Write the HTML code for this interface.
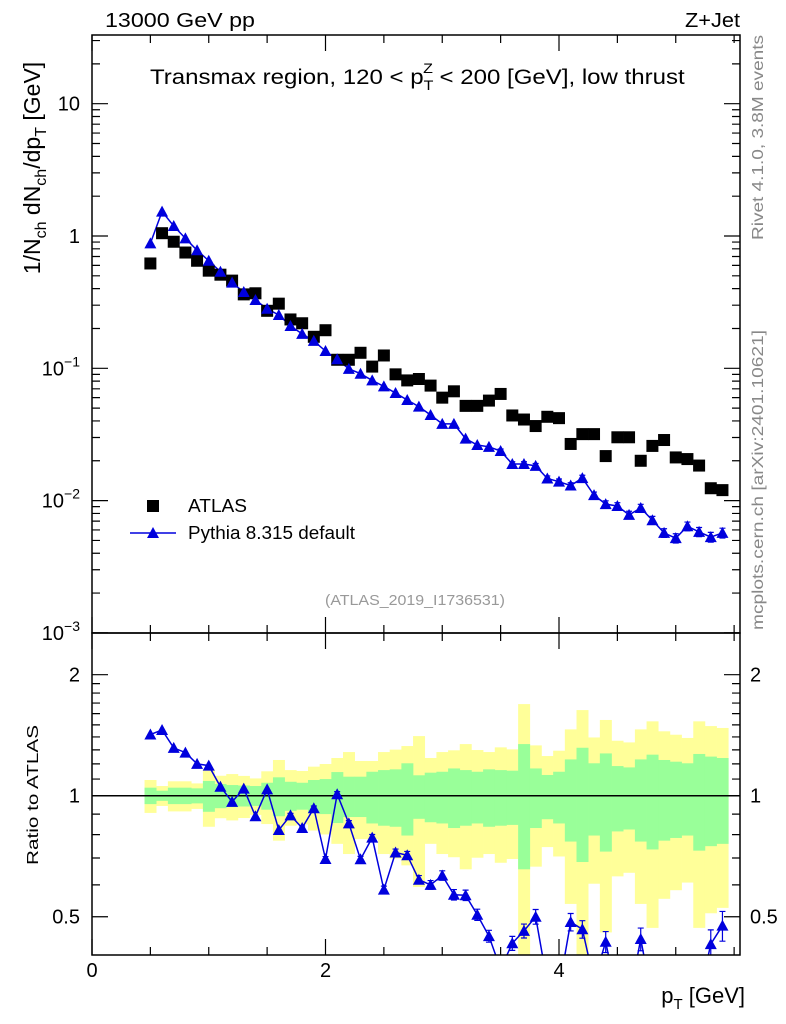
<!DOCTYPE html>
<html><head><meta charset="utf-8"><style>
html,body{margin:0;padding:0;background:#fff;overflow:hidden;width:786px;height:1024px}
svg{display:block;font-family:"Liberation Sans",sans-serif}
</style></head><body>
<svg id="c" width="786" height="1024" viewBox="0 0 786 1024">
<defs>
<clipPath id="cm"><rect x="92" y="35" width="648" height="598"/></clipPath>
<clipPath id="cr"><rect x="92" y="633" width="648" height="322"/></clipPath>
</defs>
<g id="bands" clip-path="url(#cr)"></g>
<g id="marks"></g>
<rect x="92" y="35" width="648" height="598" fill="none" stroke="#000" stroke-width="1.5"/>
<rect x="92" y="633" width="648" height="322" fill="none" stroke="#000" stroke-width="1.5"/>
<g id="ticks" stroke="#000" stroke-width="1.2"></g>
<g id="labels" font-size="20"></g>
<text x="105" y="27" font-size="20" textLength="150" lengthAdjust="spacingAndGlyphs">13000 GeV pp</text>
<text x="685" y="27" font-size="20" textLength="55" lengthAdjust="spacingAndGlyphs">Z+Jet</text>
<text transform="translate(150,0) scale(1.145,1)" x="0" y="84" font-size="21">Transmax region, 120 &lt; p<tspan font-size="14" dy="6">T</tspan><tspan font-size="14" dx="-9" dy="-17">Z</tspan><tspan dy="11"> &lt; 200 [GeV], low thrust</tspan></text>
<text transform="translate(40,168) rotate(-90)" font-size="23" text-anchor="middle">1/N<tspan font-size="16" dy="6">ch</tspan><tspan dy="-6"> dN</tspan><tspan font-size="16" dy="6">ch</tspan><tspan dy="-6">/dp</tspan><tspan font-size="16" dy="6">T</tspan><tspan dy="-6"> [GeV]</tspan></text>
<text transform="translate(38,795) rotate(-90)" font-size="16" text-anchor="middle" textLength="140" lengthAdjust="spacingAndGlyphs">Ratio to ATLAS</text>
<text x="745" y="1003" font-size="22" text-anchor="end">p<tspan font-size="15" dy="6">T</tspan><tspan dy="-6"> [GeV]</tspan></text>
<text transform="translate(763,240) rotate(-90)" font-size="16" fill="#888" textLength="205" lengthAdjust="spacingAndGlyphs">Rivet 4.1.0,  3.8M events</text>
<text transform="translate(763,630) rotate(-90)" font-size="16" fill="#888" textLength="300" lengthAdjust="spacingAndGlyphs">mcplots.cern.ch [arXiv:2401.10621]</text>
<text x="325" y="605" font-size="15" fill="#999" textLength="180" lengthAdjust="spacingAndGlyphs">(ATLAS_2019_I1736531)</text>
<g>
<rect x="147" y="500" width="12" height="12" fill="#000"/>
<text x="188" y="512" font-size="18" textLength="59" lengthAdjust="spacingAndGlyphs">ATLAS</text>
<line x1="130" y1="533" x2="176" y2="533" stroke="#0000dd" stroke-width="1.5"/>
<polygon points="153,527 159,538 147,538" fill="#0000dd"/>
<text x="188" y="539" font-size="18" textLength="167" lengthAdjust="spacingAndGlyphs">Pythia 8.315 default</text>
</g>
</svg>
<script>
const xCenters=[0.5,0.6,0.7,0.8,0.9,1.0,1.1,1.2,1.3,1.4,1.5,1.6,1.7,1.8,1.9,2.0,2.1,2.2,2.3,2.4,2.5,2.6,2.7,2.8,2.9,3.0,3.1,3.2,3.3,3.4,3.5,3.6,3.7,3.8,3.9,4.0,4.1,4.2,4.3,4.4,4.5,4.6,4.7,4.8,4.9,5.0,5.1,5.2,5.3,5.4];
const atlas=[0.62,1.05,0.905,0.75,0.65,0.547,0.51,0.46,0.362,0.369,0.272,0.308,0.234,0.219,0.173,0.194,0.116,0.116,0.131,0.103,0.125,0.090,0.081,0.083,0.074,0.060,0.067,0.052,0.052,0.057,0.064,0.044,0.041,0.0366,0.043,0.042,0.0268,0.0318,0.0318,0.0217,0.0301,0.0301,0.020,0.0259,0.0287,0.0212,0.0206,0.0184,0.0124,0.0120];
const pythia=[0.88,1.53,1.19,0.96,0.78,0.65,0.537,0.444,0.377,0.328,0.282,0.253,0.209,0.182,0.161,0.135,0.117,0.099,0.091,0.081,0.073,0.065,0.0576,0.0513,0.0444,0.038,0.038,0.0294,0.0263,0.0255,0.0237,0.0189,0.0189,0.0183,0.0147,0.0139,0.0130,0.0148,0.0110,0.0094,0.0091,0.0078,0.0088,0.0071,0.0057,0.0052,0.0064,0.0058,0.0053,0.0057];
const pythiaRelErr=[0.005,0.005,0.005,0.005,0.005,0.006,0.006,0.007,0.008,0.008,0.01,0.01,0.012,0.012,0.013,0.014,0.015,0.016,0.017,0.018,0.02,0.02,0.022,0.024,0.025,0.027,0.03,0.03,0.032,0.034,0.036,0.04,0.04,0.042,0.045,0.048,0.05,0.05,0.055,0.06,0.06,0.065,0.065,0.07,0.075,0.08,0.075,0.08,0.085,0.085];
const statErr=[0.047,0.029,0.047,0.047,0.043,0.088,0.069,0.063,0.060,0.057,0.077,0.111,0.083,0.077,0.094,0.100,0.145,0.115,0.115,0.147,0.158,0.163,0.204,0.124,0.141,0.147,0.169,0.158,0.147,0.163,0.158,0.154,0.344,0.169,0.126,0.147,0.231,0.316,0.204,0.274,0.185,0.176,0.231,0.265,0.227,0.215,0.204,0.270,0.251,0.241];
const totErr=[0.094,0.057,0.086,0.086,0.073,0.163,0.121,0.132,0.120,0.104,0.150,0.227,0.158,0.152,0.181,0.199,0.241,0.284,0.220,0.220,0.284,0.302,0.329,0.407,0.241,0.284,0.297,0.344,0.299,0.284,0.319,0.304,0.690,0.334,0.255,0.294,0.462,0.633,0.396,0.543,0.370,0.357,0.462,0.531,0.446,0.418,0.392,0.531,0.490,0.474];
const binWidth=0.1;
const mainTicks=[10,1,0.1,0.01,0.001];
const xTickLabels=[0,2,4];
const ratioTickLabels=[0.5,1,2];

const NS="http://www.w3.org/2000/svg";
const X=v=>92+v*116.75;
const Y=v=>236-132.3*Math.log10(v);
const R=v=>795.7-402*Math.log10(Math.max(v,1e-3));
function mk(tag,attrs,parent){const e=document.createElementNS(NS,tag);for(const k in attrs)e.setAttribute(k,attrs[k]);parent.appendChild(e);return e;}
const bands=document.getElementById('bands'),marks=document.getElementById('marks'),ticks=document.getElementById('ticks'),labels=document.getElementById('labels');

xCenters.forEach((c,i)=>{
  const x0=X(c-binWidth/2),x1=X(c+binWidth/2);
  const yt=R(1+totErr[i]),yb=Math.min(R(Math.max(1-totErr[i],0.01)),955);
  const y=mk('rect',{x:x0,y:yt,width:x1-x0+0.3,height:yb-yt,fill:'#ffff99'},bands);
  
  
});
xCenters.forEach((c,i)=>{
  const x0=X(c-binWidth/2),x1=X(c+binWidth/2);
  const g=mk('rect',{x:x0,y:R(1+statErr[i]),width:x1-x0+0.3,height:R(1-statErr[i])-R(1+statErr[i]),fill:'#99ff99'},bands);
  
  
});
const one=mk('line',{x1:92,x2:740,y1:R(1),y2:R(1),stroke:'#000','stroke-width':1.5},bands);



const gm=mk('g',{'clip-path':'url(#cm)'},marks);


const pl=mk('polyline',{points:xCenters.map((c,i)=>X(c)+','+Y(pythia[i])).join(' '),fill:'none',stroke:'#0000dd','stroke-width':1.5},gm);


xCenters.forEach((c,i)=>{
  const x=X(c);
  const sq=mk('rect',{x:x-6,y:Y(atlas[i])-6,width:12,height:12,fill:'#000'},gm);
  
  
  const y=Y(pythia[i]),e=pythiaRelErr[i];
  const yt=Y(pythia[i]*(1+e)),yb=Y(pythia[i]*(1-e));
  if(yb-yt>4){const eb=mk('path',{d:`M${x},${yt}V${yb}M${x-3},${yt}H${x+3}M${x-3},${yb}H${x+3}`,stroke:'#0000dd','stroke-width':1.2},gm);
  
  }
  const t=mk('polygon',{points:`${x},${y-6} ${x+6},${y+5} ${x-6},${y+5}`,fill:'#0000dd'},gm);
  
  
});

const gr=mk('g',{'clip-path':'url(#cr)'},marks);


const ratio=xCenters.map((c,i)=>pythia[i]/atlas[i]);
const rl=mk('polyline',{points:xCenters.map((c,i)=>X(c)+','+Math.min(R(ratio[i]),1000)).join(' '),fill:'none',stroke:'#0000dd','stroke-width':1.5},gr);


xCenters.forEach((c,i)=>{
  const x=X(c),y=R(ratio[i]),e=pythiaRelErr[i];
  if(y>975)return;
  const yt=R(ratio[i]*(1+e)),yb=R(ratio[i]*(1-e));
  if(yb-yt>4){const eb=mk('path',{d:`M${x},${yt}V${yb}M${x-3},${yt}H${x+3}M${x-3},${yb}H${x+3}`,stroke:'#0000dd','stroke-width':1.2},gr);
  
  }
  const t=mk('polygon',{points:`${x},${y-6} ${x+6},${y+5} ${x-6},${y+5}`,fill:'#0000dd'},gr);
  
  
});

let d='';
for(let p=-3;p<=1;p++){for(let m=1;m<10;m++){const v=m*Math.pow(10,p);const y=Y(v);if(y<35||y>633)continue;const L=m===1?16:8;d+=`M92,${y}h${L}M740,${y}h${-L}`;}}
for(let v=0;v<=5.5;v+=0.5){const x=X(v);const L=(v%2===0)?16:8;d+=`M${x},633v${-L}M${x},35v${L}M${x},955v${-L}M${x},633v${L}`;}
[0.4,0.5,0.6,0.7,0.8,0.9,1,1.1,1.2,1.3,1.4,1.5,1.6,1.7,1.8,1.9,2].forEach(v=>{const y=R(v);if(y<633||y>955)return;const L=(v===0.5||v===1||v===2)?16:8;d+=`M92,${y}h${L}M740,${y}h${-L}`;});
const tk=mk('path',{d:d},ticks);



mainTicks.forEach(v=>{
  const y=Y(v)+7;
  const t=mk('text',{x:80,y:y,'text-anchor':'end'},labels);
  
  
  if(v>=1){t.textContent=String(v);}else{
    const p=Math.round(Math.log10(v));
    t.textContent='10';const s=mk('tspan',{'font-size':14,dy:-9},t);s.textContent='\u2212'+(-p);
  }
});
xTickLabels.forEach(v=>{
  const t=mk('text',{x:X(v),y:977,'text-anchor':'middle'},labels);
  
  
  t.textContent=String(v);
});
ratioTickLabels.forEach(v=>{
  const a=mk('text',{x:80,y:R(v)+7,'text-anchor':'end'},labels);
  
  
  a.textContent=String(v);
  const b=mk('text',{x:750,y:R(v)+7,'text-anchor':'start'},labels);
  
  
  b.textContent=String(v);
});
</script>
</body></html>
